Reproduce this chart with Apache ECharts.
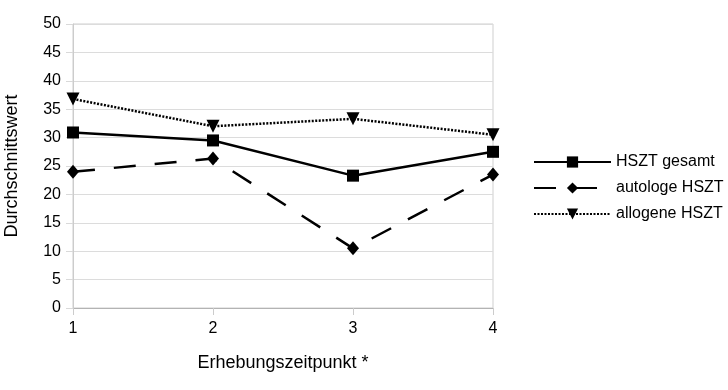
<!DOCTYPE html>
<html><head><meta charset="utf-8">
<script src="https://cdn.jsdelivr.net/npm/echarts@6/dist/echarts.min.js"></script>
<style>html,body{margin:0;padding:0;background:#fff}#c{width:728px;height:390px}</style>
</head><body><div id="c"></div>
<script>
const categories = ['1', '2', '3', '4'];
const gesamt = [30.9, 29.5, 23.3, 27.5];
const autologe = [24.0, 26.3, 10.5, 23.5];
const allogene = [36.8, 32.0, 33.3, 30.5];
const names = ['HSZT gesamt', 'autologe HSZT', 'allogene HSZT'];

const font = 'Liberation Sans, Arial, sans-serif';
const chart = echarts.init(document.getElementById('c'), null, {renderer: 'canvas'});
chart.setOption({
  animation: false,
  backgroundColor: '#fff',
  textStyle: {fontFamily: font, color: '#000'},
  grid: {left: 73, right: 235, top: 24, bottom: 82, show: true, borderColor: '#cfcfcf', borderWidth: 1,
         containLabel: false, outerBoundsMode: 'none'},
  legend: {
    orient: 'vertical', left: 533, top: 154, padding: 0, itemWidth: 77, itemHeight: 14, itemGap: 10,
    textStyle: {fontFamily: font, fontSize: 16, lineHeight: 16, color: '#000'},
    data: names
  },
  xAxis: {
    type: 'category', data: categories, boundaryGap: false,
    name: 'Erhebungszeitpunkt *', nameLocation: 'middle', nameGap: 46,
    nameTextStyle: {fontFamily: font, fontSize: 18, color: '#000'},
    axisLine: {lineStyle: {color: '#b3b3b3'}},
    axisTick: {show: true, length: 7, lineStyle: {color: '#cccccc'}},
    axisLabel: {fontFamily: font, fontSize: 16, color: '#000', margin: 13},
    splitLine: {show: false}
  },
  yAxis: {
    type: 'value', min: 0, max: 50, interval: 5,
    name: 'Durchschnittswert', nameLocation: 'middle', nameGap: 52,
    nameTextStyle: {fontFamily: font, fontSize: 18, color: '#000'},
    axisLine: {show: true, lineStyle: {color: '#cccccc'}},
    axisTick: {show: true, length: 7, lineStyle: {color: '#d9d9d9'}},
    axisLabel: {fontFamily: font, fontSize: 16, color: '#000', margin: 12},
    splitLine: {lineStyle: {color: '#dcdcdc'}}
  },
  series: [
    {name: names[0], type: 'line', data: gesamt, symbol: 'rect', symbolSize: 12,
     itemStyle: {color: '#000'}, lineStyle: {color: '#000', width: 2.5}},
    {name: names[1], type: 'line', data: autologe, symbol: 'diamond', symbolSize: [12, 14],
     itemStyle: {color: '#000'}, lineStyle: {color: '#000', width: 2.5, type: [22, 19]}},
    {name: names[2], type: 'line', data: allogene, symbol: 'triangle', symbolRotate: 180, symbolSize: 13,
     itemStyle: {color: '#000'}, lineStyle: {color: '#000', width: 2.5, type: [2, 1.5]}}
  ]
});
</script></body></html>
